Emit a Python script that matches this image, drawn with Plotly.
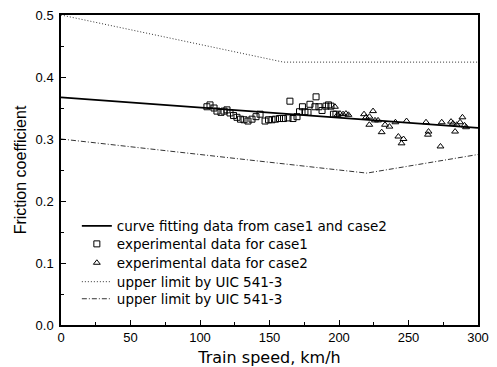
import plotly.graph_objects as go

# Curve fitting (linear) from case1 and case2
fit_x = [0, 300]
fit_y = [0.367, 0.318]

# Experimental data, case1 (squares)
case1_x = [105.0, 107.2, 110.1, 112.2, 115.1, 117.3, 119.4, 121.6, 124.1, 126.6,
           129.1, 131.7, 134.5, 137.4, 140.3, 143.2, 146.8, 149.3, 151.8, 154.3,
           157.2, 160.1, 163.3, 166.9, 169.8, 164.7, 171.6, 173.7, 175.5, 177.7,
           179.1, 183.5, 182.7, 185.6, 187.8, 190.6, 192.4, 194.2, 196.0, 197.8]
case1_y = [0.352, 0.355, 0.350, 0.345, 0.343, 0.345, 0.347, 0.342, 0.338, 0.335,
           0.332, 0.331, 0.329, 0.332, 0.336, 0.340, 0.329, 0.331, 0.331, 0.332,
           0.333, 0.333, 0.334, 0.333, 0.336, 0.361, 0.344, 0.352, 0.344, 0.343,
           0.356, 0.368, 0.352, 0.352, 0.346, 0.353, 0.355, 0.353, 0.340, 0.340]

# Experimental data, case2 (triangles)
case2_x = [197.1, 198.9, 200.7, 202.9, 205.0, 206.8, 218.0, 219.4, 221.9, 224.5,
           221.8, 225.9, 228.1, 230.7, 233.1, 236.3, 240.6, 242.7, 246.4, 245.0,
           248.6, 262.6, 264.4, 264.0, 273.0, 273.9, 280.6, 282.0, 283.5, 284.7,
           287.1, 288.8, 290.3, 291.4]
case2_y = [0.352, 0.339, 0.341, 0.340, 0.341, 0.339, 0.340, 0.335, 0.336, 0.345,
           0.323, 0.330, 0.330, 0.311, 0.323, 0.320, 0.327, 0.304, 0.300, 0.293,
           0.329, 0.327, 0.312, 0.307, 0.288, 0.327, 0.328, 0.325, 0.312, 0.323,
           0.327, 0.335, 0.322, 0.319]

# UIC 541-3 limits
upper_x = [0, 160, 300]
upper_y = [0.5, 0.424, 0.424]
lower_x = [0, 220, 300]
lower_y = [0.3, 0.245, 0.275]

x_ticks = [0, 50, 100, 150, 200, 250, 300]
y_ticks = [0.0, 0.1, 0.2, 0.3, 0.4, 0.5]

FONT = "Liberation Sans, Arial, sans-serif"
WIDE = "DejaVu Sans, Liberation Sans, sans-serif"

fig = go.Figure()
fig.add_trace(go.Scatter(x=fit_x, y=fit_y, mode="lines", legend="legend",
                         line=dict(color="black", width=1.8),
                         name="curve fitting data from case1 and case2"))
fig.add_trace(go.Scatter(x=case1_x, y=case1_y, mode="markers", legend="legend2",
                         marker=dict(symbol="square-open", size=6, color="black",
                                     line=dict(width=1)),
                         name="experimental data for case1"))
fig.add_trace(go.Scatter(x=case2_x, y=case2_y, mode="markers", legend="legend3",
                         marker=dict(symbol="triangle-up-open", size=6, color="black",
                                     line=dict(width=1)),
                         name="experimental data for case2"))
fig.add_trace(go.Scatter(x=upper_x, y=upper_y, mode="lines", legend="legend4",
                         line=dict(color="#333333", width=1, dash="1px,2px"),
                         name="upper limit by UIC 541-3"))
fig.add_trace(go.Scatter(x=lower_x, y=lower_y, mode="lines", legend="legend5",
                         line=dict(color="#333333", width=1, dash="5px,2px,1px,2px"),
                         name="upper limit by UIC 541-3"))

axis_common = dict(showline=True, linecolor="black", linewidth=1.5, mirror=True,
                   ticks="inside", ticklen=5, tickwidth=1, tickcolor="black",
                   showgrid=False, zeroline=False, automargin=False,
                   tickfont=dict(family=FONT, size=13, color="black"))

# one legend box per row so the rows can sit as tightly as in the original
row_centers = [0.319, 0.261, 0.200, 0.139, 0.084]
legend_common = dict(x=0.038, xanchor="left", yanchor="middle",
                     bgcolor="rgba(0,0,0,0)", font=dict(family=WIDE, size=13.5),
                     itemwidth=30)
legends = {}
for i, yc in enumerate(row_centers):
    key = "legend" if i == 0 else f"legend{i + 1}"
    legends[key] = dict(y=yc, **legend_common)

fig.update_layout(
    width=497, height=367,
    margin=dict(l=61, r=19, t=15, b=42, autoexpand=False),
    plot_bgcolor="white", paper_bgcolor="white",
    font=dict(family=FONT, size=14, color="black"),
    showlegend=True,
    xaxis=dict(range=[0, 300], tickvals=x_ticks, ticklabelstandoff=0,
               minor=dict(ticks="inside", ticklen=3, dtick=25, tickcolor="black"),
               title=dict(text="Train speed, km/h", standoff=10,
                          font=dict(family=WIDE, size=16)),
               **axis_common),
    yaxis=dict(range=[0, 0.5], tickvals=y_ticks, tickformat=".1f", ticklabelstandoff=3,
               minor=dict(ticks="inside", ticklen=3, dtick=0.05, tickcolor="black"),
               title=dict(text="Friction coefficient", standoff=5,
                          font=dict(family=FONT, size=16)),
               **axis_common),
    **legends,
)

fig.write_html("out.html", config={"displayModeBar": False},
               post_script="document.body.style.margin='0';")
